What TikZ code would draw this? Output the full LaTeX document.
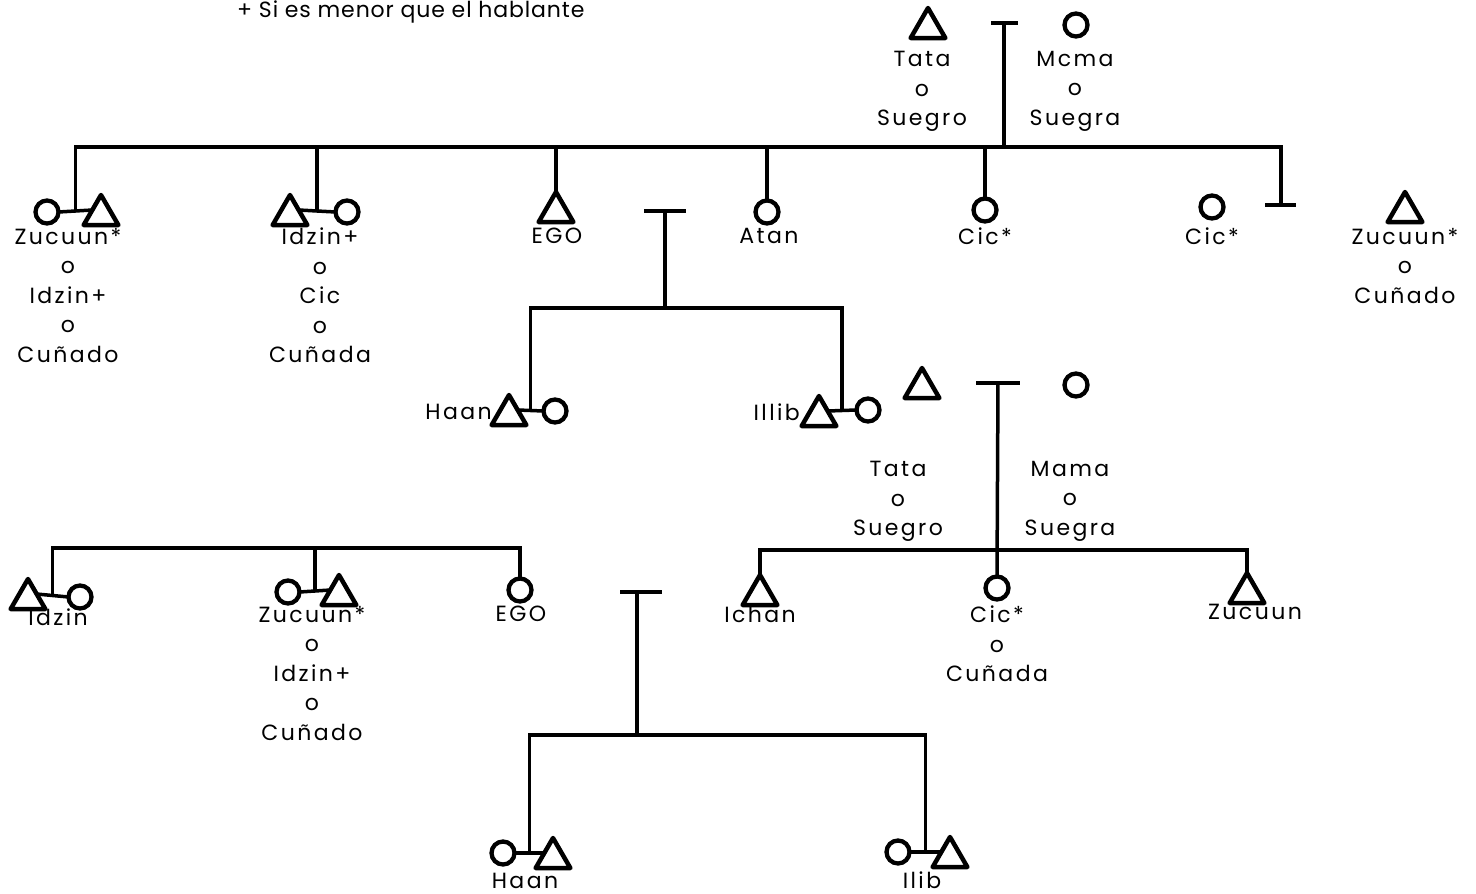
\documentclass[tikz,border=0pt]{standalone}
\usepackage{fontspec}
\setmainfont{Poppins}[LetterSpace=11.0]
\newfontfamily\headfont{Poppins}[LetterSpace=4.0]
\usetikzlibrary{shapes.geometric,calc}
\tikzset{
  lin/.style={line width=3.5pt},
  tri/.style={draw, line width=4.5pt, line join=round, regular polygon, regular polygon sides=3, minimum size=40pt, inner sep=0pt, outer sep=0pt},
  cir/.style={draw, circle, line width=4.3pt, minimum size=23pt, inner sep=0pt, outer sep=0pt},
  lab/.style={inner sep=0pt, align=center, anchor=north, font=\fontsize{22}{29.5}\selectfont},
  labb/.style={inner sep=0pt, anchor=base, font=\fontsize{22}{29.5}\selectfont},
  labr/.style={inner sep=0pt, anchor=east, font=\fontsize{22}{29.5}\selectfont},
}
\begin{document}
\begin{tikzpicture}[x=1pt,y=-1pt]
\useasboundingbox (0,0) rectangle (1476,894);
% header
\node[inner sep=0pt, anchor=base west, font=\headfont\fontsize{22}{24}\selectfont] (head) at (237,17) {+ Si es menor que el hablante};

% ---------- top parents ----------
\node[tri] (tF) at (928,28) {};
\node[cir] (tM) at (1076,25) {};
\coordinate (tb1) at (1004,23);
\coordinate (b1C) at (1004,147);
\draw[lin] ([xshift=-13pt]tb1) -- ([xshift=14pt]tb1);
\draw[lin] (tb1) -- (b1C);
\node[lab] (lTata1) at (922,51) {Tata\\o\\Suegro};
\node[lab] (lMama1) at (1075,51) {Mcma\\o\\Suegra};

% ---------- row 1 ----------
\node[cir] (c1a) at (47,212) {};
\node[tri] (c1b) at (101,215) {};
\draw[lin] (c1a.east) -- (c1b.side 1);
\coordinate (c1m) at ($(c1a.east)!0.5!(c1b.side 1)$);

\node[tri] (c2a) at (290,215) {};
\node[cir] (c2b) at (347,212) {};
\draw[lin] (c2a.side 3) -- (c2b.west);
\coordinate (c2m) at ($(c2a.side 3)!0.5!(c2b.west)$);

\node[tri] (ego1) at (556,212) {};
\node[cir] (atan) at (767,212) {};
\node[cir] (cic1) at (985,210) {};
\node[cir] (cic2) at (1212,207) {};
\node[tri] (zuc1) at (1405,212) {};

\coordinate (tb2) at (1281,205);
\draw[lin] ([xshift=-16pt]tb2) -- ([xshift=15pt]tb2);
\draw[lin] (c1m) |- (b1C) -| (tb2);
\draw[lin] (c2m) -- (c2m |- b1C);
\draw[lin] (ego1.corner 1) -- (ego1.corner 1 |- b1C);
\draw[lin] (atan.north) -- (atan.north |- b1C);
\draw[lin] (cic1.north) -- (cic1.north |- b1C);

\node[lab] (l1a) at (68,228) {Zucuun*\\o\\Idzin+\\o\\Cuñado};
\node[lab] (l1b) at (320,228) {Idzin+\\o\\Cic\\o\\Cuñada};
\node[lab] (l1c) at (557,228) {EGO};
\node[lab] (l1d) at (769,228) {Atan};
\node[lab] (l1e) at (985,228) {Cic*};
\node[lab] (l1f) at (1212,228) {Cic*};
\node[lab] (l1g) at (1405,228) {Zucuun*\\o\\Cuñado};

% ---------- EGO's children ----------
\coordinate (tb3) at (665,211);
\coordinate (b3C) at (665,308);
\draw[lin] ([xshift=-21pt]tb3) -- ([xshift=21pt]tb3);
\draw[lin] (tb3) -- (b3C);
\node[tri] (hA) at (509,415) {};
\node[cir] (hB) at (555,411) {};
\draw[lin] (hA.side 3) -- (hB.west);
\coordinate (hm) at ($(hA.side 3)!0.5!(hB.west)$);
\node[tri] (iA) at (819,416) {};
\node[cir] (iB) at (868,410) {};
\draw[lin] (iA.side 3) -- (iB.west);
\coordinate (im) at ($(iA.side 3)!0.5!(iB.west)$);
\draw[lin] (hm) |- (b3C) -| (im);
\node[labr] (lHaan1) at (492,412) {Haan};
\node[labr] (lIllib) at (800,412) {Illib};

% ---------- row 2 right parents ----------
\node[tri] (pF) at (922,388) {};
\node[cir] (pM) at (1076,385) {};
\coordinate (tb4) at (998,383);
\coordinate (b4C) at (998,550);
\draw[lin] ([xshift=-22pt]tb4) -- ([xshift=22pt]tb4);
\node[lab] (lTata2) at (898,461) {Tata\\o\\Suegro};
\node[lab] (lMama2) at (1070,461) {Mama\\o\\Suegra};
\node[tri] (ich) at (760,595) {};
\node[cir] (cic3) at (997,588) {};
\node[tri] (zuc2) at (1247,593) {};
\draw[lin] (tb4) -- (cic3.north);
\draw[lin] (ich.corner 1) |- (b4C) -| (zuc2.corner 1);
\node[lab] (l2e) at (760,606) {Ichan};
\node[lab] (l2f) at (997,606) {Cic*\\o\\Cuñada};
\node[lab] (l2g) at (1255,604) {Zucuun};

% ---------- row 2 left ----------
\node[tri] (dA) at (28,599) {};
\node[cir] (dB) at (80,597) {};
\draw[lin] (dA.side 3) -- (dB.west);
\coordinate (dm) at ($(dA.side 3)!0.5!(dB.west)$);
\node[cir] (zA) at (288,592) {};
\node[tri] (zB) at (339,595) {};
\draw[lin] (zA.east) -- (zB.side 1);
\coordinate (zm) at ($(zA.east)!0.5!(zB.side 1)$);
\node[cir] (ego2) at (520,590) {};
\coordinate (b5) at (313,548);
\draw[lin] (dm) |- (b5) -| (ego2.north);
\draw[lin] (zm) -- (zm |- b5);
\node[lab] (l2a) at (58,609) {Idzin};
\node[lab] (l2b) at (312,606) {Zucuun*\\o\\Idzin+\\o\\Cuñado};
\node[lab] (l2c) at (521,606) {EGO};

% ---------- bottom children ----------
\coordinate (tb6) at (637,592);
\coordinate (b6C) at (637,735);
\draw[lin] ([xshift=-17pt]tb6) -- ([xshift=25pt]tb6);
\draw[lin] (tb6) -- (b6C);
\node[cir] (bhA) at (503,853) {};
\node[tri] (bhB) at (553,858) {};
\draw[lin] (bhA.east) -- (bhB.side 1);
\coordinate (bhm) at ($(bhA.east)!0.5!(bhB.side 1)$);
\node[cir] (biA) at (898,852) {};
\node[tri] (biB) at (950,857) {};
\draw[lin] (biA.east) -- (biB.side 1);
\coordinate (bim) at ($(biA.east)!0.5!(biB.side 1)$);
\draw[lin] (bhm) |- (b6C) -| (bim);
\node[labb] (l3a) at (525,888) {Haan};
\node[labb] (l3b) at (922,888) {Ilib};
\end{tikzpicture}
\end{document}
